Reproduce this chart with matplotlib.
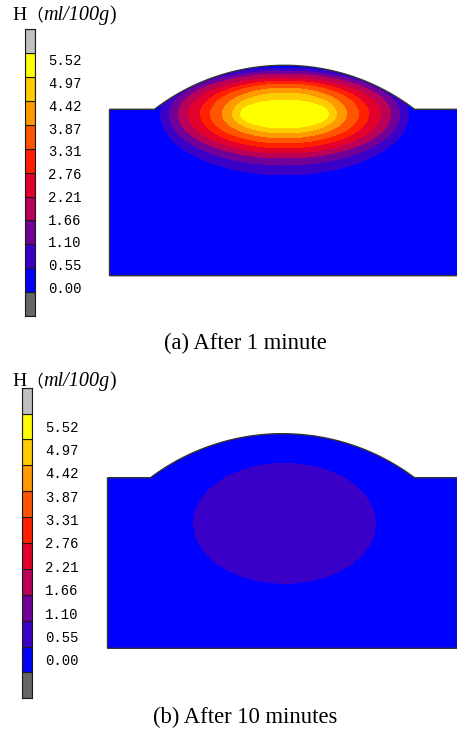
import numpy as np
import matplotlib
matplotlib.use("Agg")
import matplotlib.pyplot as plt
from matplotlib.path import Path
from matplotlib.patches import PathPatch

# ---------------- data ----------------
levels = [0.00, 0.55, 1.10, 1.66, 2.21, 2.76, 3.31, 3.87, 4.42, 4.97, 5.52]
level_labels = ["0.00", "0.55", "1.10", "1.66", "2.21", "2.76",
                "3.31", "3.87", "4.42", "4.97", "5.52"]
band_colors = ["#0000ff", "#3a00c8", "#700098", "#bb0058", "#e4002c",
               "#ff2000", "#ff5500", "#ff9900", "#ffcc00", "#ffff00"]
under_color = "#666666"
over_color = "#c0c0c0"

# contour geometry (semi-axes of each iso-line)
a_iso_levels = [0.55, 1.10, 1.66, 2.21, 2.76, 3.31, 3.87, 4.42, 4.97]
a_half_width = [124, 115, 106, 96, 84, 74, 62, 52, 44]
a_up = [46, 43, 40, 36, 33, 30, 26, 21, 14]
a_down = [61, 51, 44, 39, 34, 29, 24, 19, 14]
a_center = (0.0, 161.7)

b_iso_levels = [0.55]
b_half_width = [91]
b_up = [60]
b_down = [60]
b_center = (2.0, 125.0)

# domain geometry
half_width = 175
a_rect_h, b_rect_h = 166.4, 170.6
a_chord, b_chord = 130, 132
arc_rise = 44

captions = ["(a) After 1 minute", "(b) After 10 minutes"]

# ---------------- figure ----------------
W, H = 457, 731
fig = plt.figure(figsize=(W / 100, H / 100), dpi=100)


def px_axes(left, top, width, height):
    return fig.add_axes([left / W, 1 - (top + height) / H, width / W, height / H])


def domain_path(rect_h, chord):
    R = (chord ** 2 + arc_rise ** 2) / (2 * arc_rise)
    yc = rect_h + arc_rise - R
    th0 = np.arcsin(chord / R)
    th = np.linspace(th0, -th0, 120)
    ax_ = R * np.sin(th)
    ay_ = yc + R * np.cos(th)
    xs = [-half_width, half_width, half_width] + list(ax_) + [-half_width, -half_width]
    ys = [0, 0, rect_h] + list(ay_) + [rect_h, 0]
    return Path(np.column_stack([xs, ys]), closed=False)


def field(X, Y, center, lv, aw, au, ad):
    dx = X - center[0]
    dy = Y - center[1]
    D = np.stack([np.sqrt((dx / a) ** 2 + (dy / np.where(dy > 0, u, d)) ** 2)
                  for a, u, d in zip(aw, au, ad)])
    n = (D < 1).sum(0)
    K = len(lv)
    V = np.empty_like(X)
    m = n == 0
    V[m] = lv[0] * 0.9 / D[0][m]
    m = n == K
    V[m] = lv[-1] + (1 - D[-1][m]) * 0.3
    for k in range(1, K):
        m = n == k
        d0 = D[k - 1][m]
        d1 = D[k][m]
        t = (1 - d0) / (d1 - d0)
        V[m] = lv[k - 1] + (lv[k] - lv[k - 1]) * t
    return V


def draw_panel(ax, rect_h, chord, center, lv, aw, au, ad):
    x = np.linspace(-half_width, half_width, 800)
    y = np.linspace(0, rect_h + arc_rise + 1, 500)
    X, Y = np.meshgrid(x, y)
    V = field(X, Y, center, lv, aw, au, ad)
    cs = ax.contourf(X, Y, V, levels=levels, colors=band_colors)
    patch = PathPatch(domain_path(rect_h, chord), transform=ax.transData,
                      facecolor="none", edgecolor="#333333", linewidth=1.0, zorder=3)
    ax.add_patch(patch)
    cs.set_clip_path(patch)
    ax.set_xlim(-half_width - 2, half_width + 2)
    ax.set_ylim(-2, rect_h + arc_rise + 3)
    ax.set_axis_off()


def draw_cbar(ax, label_pos):
    cols = [under_color] + band_colors + [over_color]
    ax.bar(np.zeros(len(cols)), np.ones(len(cols)), bottom=np.arange(len(cols)),
           width=1, color=cols, edgecolor="#1a1a1a", linewidth=0.8)
    ax.set_xlim(-0.5, 0.5)
    ax.set_ylim(0, len(cols))
    ax.set_xticks([])
    ax.yaxis.tick_right()
    ax.set_yticks(label_pos)
    ax.set_yticklabels(level_labels, family="Liberation Mono", fontsize=10)
    ax.tick_params(axis="y", length=0, pad=9.5)
    for s in ax.spines.values():
        s.set_color("#1a1a1a")
        s.set_linewidth(0.8)


def draw_title(x_px, base_px):
    yb = 1 - base_px / H
    t1 = fig.text(x_px / W, yb, "H", family="Liberation Serif",
                  fontsize=14, va="baseline", ha="left")
    a2 = plt.annotate("（", xy=(1, yb), xycoords=(t1, "figure fraction"),
                      va="baseline", ha="left",
                      family=["Noto Sans CJK SC", "DejaVu Sans"], fontsize=12,
                      annotation_clip=False)
    a3 = plt.annotate("ml/100g", xy=(1, yb), xycoords=(a2, "figure fraction"),
                      va="baseline", ha="left",
                      family="Liberation Serif", style="italic", fontsize=14.5,
                      annotation_clip=False)
    plt.annotate(")", xy=(1, yb), xycoords=(a3, "figure fraction"),
                 va="baseline", ha="left",
                 family="Liberation Serif", fontsize=14.5, annotation_clip=False)


# panel (a)
ax_a = px_axes(107.5, 277.7 - (a_rect_h + arc_rise + 5), 354, a_rect_h + arc_rise + 5)
draw_panel(ax_a, a_rect_h, a_chord, a_center, a_iso_levels, a_half_width, a_up, a_down)
cb_a = px_axes(25, 29.3, 10, 286.7)
draw_cbar(cb_a, 1.19 + 0.954 * np.arange(len(level_labels)))
draw_title(12, 20)
fig.text(245.5 / W, 1 - 343 / H, captions[0], family="Liberation Serif",
         fontsize=16.3, ha="center", va="center")

# panel (b)
ax_b = px_axes(105.5, 650.3 - (b_rect_h + arc_rise + 5), 354, b_rect_h + arc_rise + 5)
draw_panel(ax_b, b_rect_h, b_chord, b_center, b_iso_levels, b_half_width, b_up, b_down)
cb_b = px_axes(21.7, 387.7, 10, 310.6)
draw_cbar(cb_b, 1.48 + 0.904 * np.arange(len(level_labels)))
draw_title(12, 386)
fig.text(245.5 / W, 1 - 717 / H, captions[1], family="Liberation Serif",
         fontsize=16.3, ha="center", va="center")

fig.savefig("out.png", dpi=100)
